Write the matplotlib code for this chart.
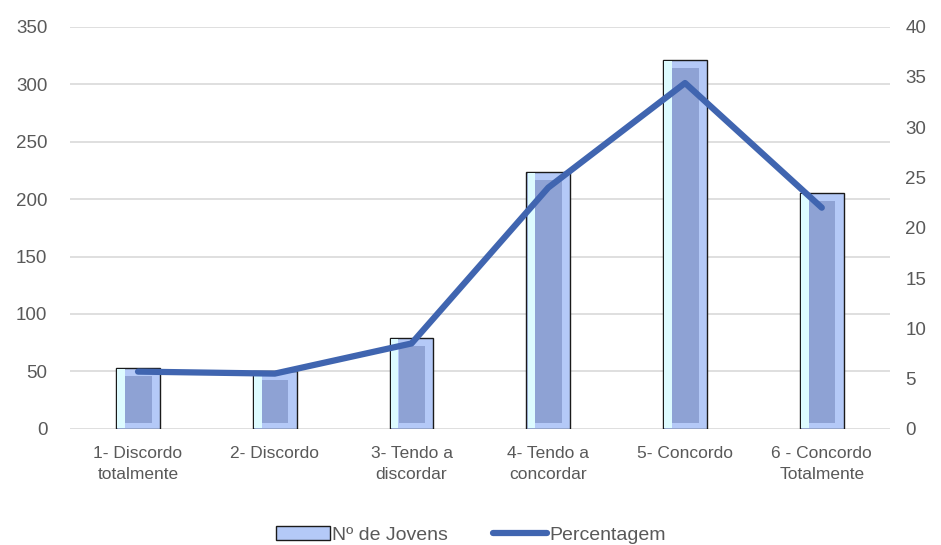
import numpy as np
import matplotlib.pyplot as plt
from matplotlib.patches import Rectangle
from matplotlib.lines import Line2D

categories = ["1- Discordo\ntotalmente", "2- Discordo", "3- Tendo a\ndiscordar",
              "4- Tendo a\nconcordar", "5- Concordo", "6 - Concordo\nTotalmente"]
jovens = [53, 50, 79, 224, 321, 205]
percentagem = [5.7, 5.5, 8.5, 24.0, 34.4, 22.0]

plt.rcParams['font.family'] = ['Liberation Sans', 'DejaVu Sans']
text_color = '#595959'
grid_color = '#D9D9D9'

fig = plt.figure(figsize=(9.41, 5.45), dpi=100)
ax = fig.add_axes([0.074, 0.213, 0.872, 0.738])
ax2 = ax.twinx()

x = np.arange(len(categories))
w = 0.32
ax.bar(x, jovens, width=w, color='#B4C9F7', edgecolor='#1A1A1A', linewidth=1.0, zorder=2)
# bevel effect: pale left strip and darker inner face
for xi, v in zip(x, jovens):
    ax.add_patch(Rectangle((xi - w / 2 + 0.008, 1), 0.055, v - 2, color='#DDFBFF', lw=0, zorder=3))
    ax.add_patch(Rectangle((xi - w / 2 + 0.065, 5), w - 0.125, v - 12,
                           facecolor='#8EA2D4', edgecolor='none', zorder=4))

ax.set_ylim(0, 350)
ax.set_yticks(range(0, 351, 50))
ax.set_xlim(-0.5, len(categories) - 0.5)
ax.set_xticks(x)
ax.set_xticklabels(categories, linespacing=1.55)
ax.yaxis.grid(True, color=grid_color, linewidth=1.2, zorder=0)
ax.set_axisbelow(True)

ax2.plot(x, percentagem, color='#4065B0', linewidth=4.5, solid_capstyle='round',
         solid_joinstyle='round', zorder=5)
ax2.set_ylim(0, 40)
ax2.set_yticks(range(0, 41, 5))

for a in (ax, ax2):
    for s in ('top', 'left', 'right', 'bottom'):
        a.spines[s].set_visible(False)
    a.tick_params(length=0, colors=text_color, labelsize=13.5)
ax.tick_params(axis='x', labelsize=12.5, pad=12)
ax.tick_params(axis='y', pad=16)
ax2.tick_params(axis='y', pad=11)

handles = [Rectangle((0, 0), 1, 1, facecolor='#B4C9F7', edgecolor='#1A1A1A', linewidth=1.0),
           Line2D([0], [0], color='#4065B0', linewidth=4.5, solid_capstyle='round')]
leg = fig.legend(handles, ['Nº de Jovens', 'Percentagem'], loc='lower center',
                 bbox_to_anchor=(0.5, -0.03), ncol=2, frameon=False, fontsize=14,
                 handlelength=2.8, handletextpad=0.1, columnspacing=2.3)
for t in leg.get_texts():
    t.set_color(text_color)

fig.savefig('out.png', dpi=100)
